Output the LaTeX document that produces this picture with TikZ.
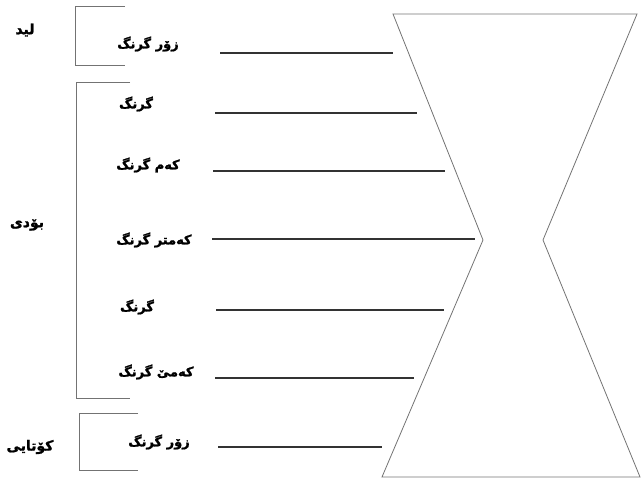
\documentclass[tikz,border=0pt]{standalone}
\usepackage{fontspec}
\newfontfamily\arabicfont[Script=Arabic, BoldFeatures={FakeBold=1.5}]{DejaVu Sans}
\TeXXeTstate=1
\tikzset{
  lbl/.style={font=\arabicfont\bfseries\fontsize{13}{15}\selectfont, inner sep=0pt},
  grp/.style={font=\arabicfont\bfseries\fontsize{14}{16}\selectfont, inner sep=0pt},
  rule/.style={black!80, line width=1.1pt},
  brace/.style={black!55, line width=0.8pt},
}
\begin{document}
\begin{tikzpicture}[x=1pt,y=-1pt]
        \useasboundingbox (0,0) rectangle (641,484);
        % Hourglass outline
        \draw[black!55, line width=0.8pt] (393,14) -- (637,14) -- (543,240)
          -- (640,477) -- (382,477) -- (483,240) -- cycle;
        % Brackets for the three parts
        \draw[brace] (125,6) -- (75,6) -- (75,65) -- (125,65);
        \draw[brace] (130,82) -- (76,82) -- (76,398) -- (130,398);
        \draw[brace] (138,413) -- (79,413) -- (79,470) -- (138,470);
        % Part names
        \node[grp] (lead) at (25,30) {\beginR لید\endR};
        \node[grp] (body) at (27,225) {\beginR بۆدی\endR};
        \node[grp] (ending) at (30,447) {\beginR کۆتایی\endR};
        % Importance labels
        \foreach \i/\x/\y/\t in {1/148/44/زۆر گرنگ, 2/136/104/گرنگ, 3/148/165/کەم گرنگ,
            4/154/240/کەمتر گرنگ, 5/137/307/گرنگ, 6/156/372/کەمێ گرنگ, 7/159/442/زۆر گرنگ} {
          \node[lbl] (t\i) at (\x,\y) {\beginR \t\endR};
        }
        % Rules pointing at the hourglass
        \foreach \i/\y/\a/\b in {1/53/220/393, 2/113/215/417, 3/171/213/445, 4/239/212/475,
            5/310/216/444, 6/378/215/414, 7/447/218/382} {
          \coordinate (s\i) at (\a,\y);
          \coordinate (e\i) at (\b,\y);
          \draw[rule] (s\i) -- (e\i);
        }
      \end{tikzpicture}
\end{document}
